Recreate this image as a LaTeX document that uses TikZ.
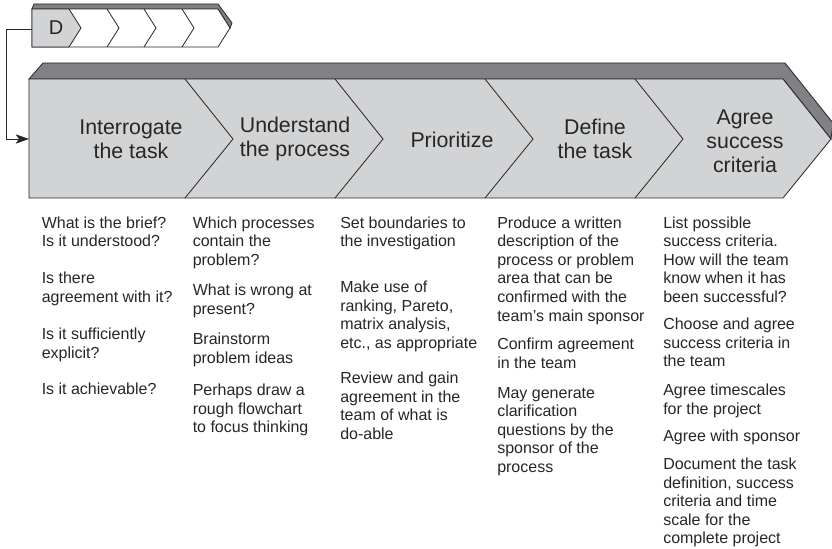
\documentclass[tikz,border=0pt]{standalone}
\usepackage{fontspec}
\setmainfont{Liberation Sans}
\usetikzlibrary{arrows.meta}
\definecolor{facegray}{RGB}{210,211,213}
\definecolor{topgray}{RGB}{128,129,132}
\begin{document}
\begin{tikzpicture}[x=0.75pt,y=-0.75pt,>=stealth,
  stagelabel/.style={align=center,inner sep=0pt,text=black!85,font=\fontsize{16}{18}\selectfont},
  notetext/.style={anchor=north west,align=left,inner sep=0pt,text=black!85,font=\fontsize{12}{13.9}\selectfont},
  edge/.style={line width=0.6pt,draw=black!85}]
  \useasboundingbox (0,0) rectangle (832,549);
  % small phase bar
  \filldraw[edge,fill=topgray] (32,9) -- (34,4) -- (218,4) -- (232,23) -- (230,28) -- (218,9) -- cycle;
  \draw[edge,fill=white] (32,9) -- (218,9) -- (230,28) -- (218,47) -- (32,47) -- cycle;
  \draw[edge,fill=facegray] (32,9) -- (69,9) -- (81,28) -- (69,47) -- (32,47) -- cycle;
  \foreach \x in {107,144,182}
    \draw[edge] (\x,9) -- (\x+12,28) -- (\x,47);
  \node[font=\fontsize{15}{17}\selectfont,text=black!85] (dphase) at (56,28) {D};
  % main bar
  \filldraw[edge,fill=topgray] (29,79) -- (43,63) -- (785,63) -- (833,123) -- (831,139) -- (783,79) -- cycle;
  \draw[edge,fill=facegray] (29,79) -- (783,79) -- (831,139) -- (783,198) -- (29,198) -- cycle;
  \foreach \x in {185,335,485,635}
    \draw[edge] (\x,79) -- (\x+48,139) -- (\x,198);
  \node[stagelabel] (interrogate) at (131,139) {Interrogate\\the task};
  \node[stagelabel] (understand) at (295,139) {Understand\\the process};
  \node[stagelabel] (prioritize) at (452,140) {Prioritize};
  \node[stagelabel] (define) at (595,139) {Define\\the task};
  \node[stagelabel] (agree) at (745,141) {Agree\\success\\criteria};
  % loop back from D
  \coordinate (dleft) at (32,29);
  \coordinate (barleft) at (29,139);
  \draw[edge,-{Stealth[length=10pt,width=7pt,inset=2.5pt]}] (dleft) -- ++(-26,0) |- (barleft);
  % notes under each stage
  \node[notetext] (int1) at (41.5,216.5) {What is the brief?\\Is it understood?};
  \node[notetext] (int2) at (41.5,272) {Is there\\agreement with it?};
  \node[notetext] (int3) at (41.5,328) {Is it sufficiently\\explicit?};
  \node[notetext] (int4) at (41.5,383) {Is it achievable?};
  \node[notetext] (und1) at (192.5,216.5) {Which processes\\contain the\\problem?};
  \node[notetext] (und2) at (192.5,284) {What is wrong at\\present?};
  \node[notetext] (und3) at (192.5,333) {Brainstorm\\problem ideas};
  \node[notetext] (und4) at (192.5,384) {Perhaps draw a\\rough flowchart\\to focus thinking};
  \node[notetext] (pri1) at (340,216.5) {Set boundaries to\\the investigation};
  \node[notetext] (pri2) at (340,281) {Make use of\\ranking, Pareto,\\matrix analysis,\\etc., as appropriate};
  \node[notetext] (pri3) at (340,372) {Review and gain\\agreement in the\\team of what is\\do-able};
  \node[notetext] (def1) at (497,216.5) {Produce a written\\description of the\\process or problem\\area that can be\\confirmed with the\\team’s main sponsor};
  \node[notetext] (def2) at (497,338) {Confirm agreement\\in the team};
  \node[notetext] (def3) at (497,387) {May generate\\clarification\\questions by the\\sponsor of the\\process};
  \node[notetext] (agr1) at (663,216.5) {List possible\\success criteria.\\How will the team\\know when it has\\been successful?};
  \node[notetext] (agr2) at (663,318) {Choose and agree\\success criteria in\\the team};
  \node[notetext] (agr3) at (663,384) {Agree timescales\\for the project};
  \node[notetext] (agr4) at (663,430) {Agree with sponsor};
  \node[notetext] (agr5) at (663,458) {Document the task\\definition, success\\criteria and time\\scale for the\\complete project};
\end{tikzpicture}
\end{document}
